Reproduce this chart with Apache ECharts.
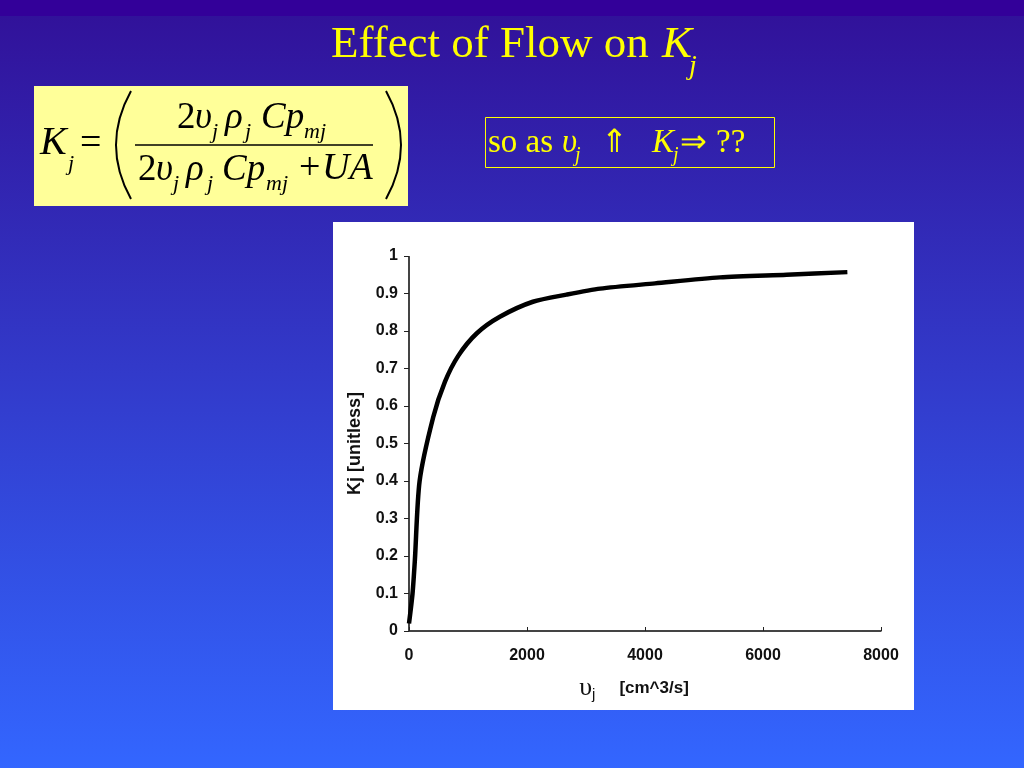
<!DOCTYPE html>
<html><head><meta charset="utf-8">
<script src="https://cdn.jsdelivr.net/npm/echarts@6/dist/echarts.min.js"></script>
<style>html,body{margin:0;padding:0;}#c{width:1024px;height:768px;}</style>
</head><body><div id="c"></div>
<script>
// Data: flow rate (cm^3/s) vs Kj (unitless)
const flowValues = [0, 60, 100, 180, 410, 610, 840, 1150, 1540, 2100, 2670, 3240, 4170, 5270, 6400, 7430];
const kjValues   = [0.02, 0.10, 0.19, 0.40, 0.57, 0.665, 0.735, 0.794, 0.838, 0.878, 0.897, 0.913, 0.927, 0.943, 0.950, 0.957];
const xTicks = [0, 2000, 4000, 6000, 8000];
const yTicks = [0, 0.1, 0.2, 0.3, 0.4, 0.5, 0.6, 0.7, 0.8, 0.9, 1];

const serif = '"Liberation Serif","Times New Roman",serif';
const sans = '"Liberation Sans",Arial,sans-serif';
const YEL = '#ffff00';
function t(text, x, base, size, italic, color, align) {
  return {
    type: 'text', z: 20,
    style: {
      text: text, x: x, y: base - size * 0.33,
      font: (italic ? 'italic ' : '') + size + 'px ' + serif,
      fill: color || '#000', textAlign: align || 'left', textVerticalAlign: 'middle'
    }
  };
}
const graphics = [
  { type: 'rect', z: -20, shape: { x: 0, y: 0, width: 1024, height: 16 }, style: { fill: '#330099' } },
  // white chart panel
  { type: 'rect', z: -10, shape: { x: 333, y: 222, width: 581, height: 488 }, style: { fill: '#ffffff' } },
  // title
  t('Effect of Flow on', 331, 60, 45, false, YEL),
  t('K', 662, 60, 45, true, YEL),
  t('j', 689, 76, 28, true, YEL),
  // formula box
  { type: 'rect', z: 10, shape: { x: 34, y: 86, width: 374, height: 120 }, style: { fill: '#ffff99' } },
  t('K', 40, 157, 40, true),
  t('j', 68, 171, 22, true),
  t('=', 80, 157, 38, false),
  { type: 'bezierCurve', z: 20, shape: { x1: 131, y1: 91, x2: 131, y2: 199, cpx1: 101, cpy1: 145 }, style: { stroke: '#000', lineWidth: 2, fill: null } },
  { type: 'bezierCurve', z: 20, shape: { x1: 386, y1: 91, x2: 386, y2: 199, cpx1: 416, cpy1: 145 }, style: { stroke: '#000', lineWidth: 2, fill: null } },
  t('2', 177, 130, 37, false), t('υ', 195, 130, 37, true), t('j', 212, 139, 22, true),
  t('ρ', 225, 130, 37, true), t('j', 245, 139, 22, true),
  t('Cp', 261, 130, 37, true), t('mj', 304, 139, 22, true),
  { type: 'line', z: 20, shape: { x1: 135, y1: 145, x2: 373, y2: 145 }, style: { stroke: '#000', lineWidth: 1.5 } },
  t('2', 138, 182, 37, false), t('υ', 156, 182, 37, true), t('j', 173, 191, 22, true),
  t('ρ', 186, 182, 37, true), t('j', 207, 191, 22, true),
  t('Cp', 222, 182, 37, true), t('mj', 266, 191, 22, true),
  t('+', 299, 182, 38, false), t('UA', 322, 182, 38, true),
  // statement box
  { type: 'rect', z: 10, shape: { x: 485.5, y: 117.5, width: 289, height: 50 }, style: { fill: null, stroke: YEL, lineWidth: 1 } },
  t('so as', 488, 154, 33, false, YEL),
  t('υ', 562, 154, 33, true, YEL), t('j', 575, 162, 20, true, YEL),
  t('⇑', 601, 154, 32, false, YEL),
  t('K', 652, 154, 33, true, YEL), t('j', 673, 162, 20, true, YEL),
  t('⇒', 680, 154, 32, false, YEL),
  t('??', 716, 154, 33, false, YEL)
];

const chart = echarts.init(document.getElementById('c'));
const dotted = { color: '#444', width: 2, type: [1.5, 1] };
chart.setOption({
  animation: false,
  backgroundColor: { type: 'linear', x: 0, y: 0, x2: 0, y2: 1, colorStops: [
    { offset: 0, color: '#330099' }, { offset: 0.02, color: '#330099' },
    { offset: 0.021, color: '#31129a' }, { offset: 1, color: '#3366ff' } ] },
  graphic: graphics,
  grid: { left: 409, right: 143, top: 256, bottom: 137, containLabel: false },
  xAxis: [{
    type: 'value', min: 0, max: 8000, interval: 2000,
    axisLine: { show: true, lineStyle: dotted },
    axisTick: { show: true, inside: true, length: 4, lineStyle: { color: '#222' } },
    splitLine: { show: false },
    axisLabel: { margin: 17, color: '#111', fontFamily: sans, fontWeight: 'bold', fontSize: 16,
      formatter: v => xTicks.includes(v) ? String(v) : '' },
    name: '{u|υ}{s|j}{g|}{b|[cm^3/s]}', nameLocation: 'middle', nameGap: 44,
    nameTextStyle: { padding: [0, 22, 0, 0], rich: {
      u: { fontFamily: serif, fontSize: 26, color: '#111' },
      s: { fontFamily: sans, fontSize: 15, color: '#111', padding: [12, 0, 0, 0] },
      g: { width: 24 },
      b: { fontFamily: sans, fontWeight: 'bold', fontSize: 17, color: '#111' } } }
  }, {
    type: 'value', min: 0, max: 8000, position: 'top',
    axisLine: { show: true, lineStyle: dotted }, axisTick: { show: false }, axisLabel: { show: false }, splitLine: { show: false }
  }],
  yAxis: [{
    type: 'value', min: 0, max: 1, interval: 0.1,
    axisLine: { show: true, lineStyle: dotted },
    axisTick: { show: true, inside: false, length: 5, lineStyle: { color: '#222' } },
    splitLine: { show: false },
    axisLabel: { margin: 11, color: '#111', fontFamily: sans, fontWeight: 'bold', fontSize: 16,
      formatter: v => { const r = Math.round(v * 10) / 10; return yTicks.includes(r) ? String(r) : ''; } },
    name: 'Kj [unitless]', nameLocation: 'middle', nameGap: 45,
    nameTextStyle: { fontFamily: sans, fontWeight: 'bold', fontSize: 18, color: '#111' }
  }, {
    type: 'value', min: 0, max: 1, position: 'right',
    axisLine: { show: true, lineStyle: dotted }, axisTick: { show: false }, axisLabel: { show: false }, splitLine: { show: false }
  }],
  series: [{
    type: 'line', data: flowValues.map((v, i) => [v, kjValues[i]]),
    showSymbol: false, smooth: 0.25, lineStyle: { color: '#000', width: 4.5 }, z: 5
  }]
});
</script></body></html>
